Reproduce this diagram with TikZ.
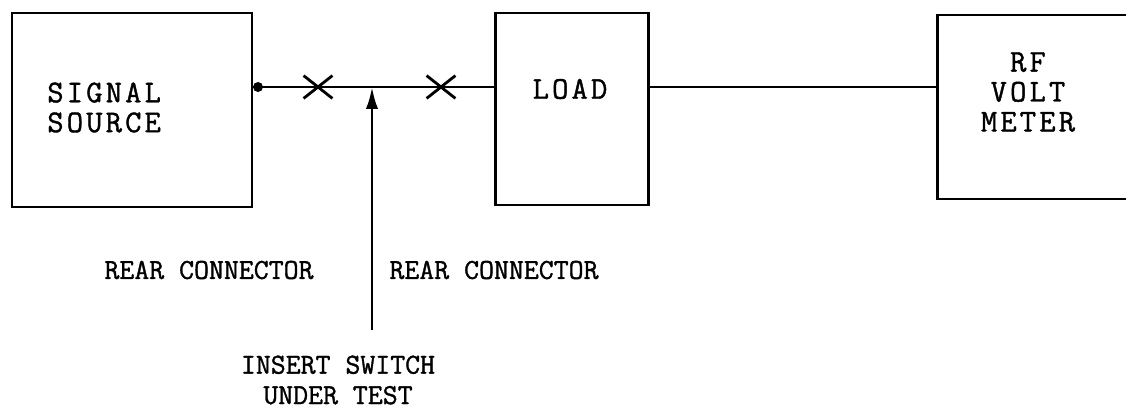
\documentclass[tikz,border=0pt]{standalone}
\usepackage{fontspec}
\usetikzlibrary{positioning, shapes.misc, arrows.meta}
\newfontfamily\spacedmono[LetterSpace=10, FakeBold=1.2]{Latin Modern Mono}
\newfontfamily\notemono[FakeBold=1.2]{Latin Modern Mono}
\tikzset{
	blocknode/.style={
			draw=black,
			line width=1.7pt,
			fill=white,
			inner sep=0pt
		},
	textnode/.style={
			font=\spacedmono\fontsize{18}{17}\selectfont,
			inner sep=0pt
		},
	notenode/.style={
			font=\notemono\fontsize{16.5}{17.3}\selectfont,
			inner sep=0pt
		},
	crossnode/.style={
			cross out,
			draw=black,
			line width=1.6pt,
			minimum width=5.2mm,
			minimum height=4mm,
			inner sep=0pt
		},
	dotnode/.style={
			circle,
			fill=black,
			minimum size=2mm,
			inner sep=0pt
		},
	wire/.style={
			line width=1.6pt
		}
}
\begin{document}
\begin{tikzpicture}[x=0.2mm, y=-0.2mm]
	\useasboundingbox (0,0) rectangle (1126,409);
	\node[blocknode, minimum width=48mm, minimum height=38.8mm] (source) at (132,110) {};
	\node[blocknode, minimum width=30.6mm, minimum height=38.4mm] (load) at (571.5,109) {};
	\node[blocknode, minimum width=40.6mm, minimum height=36.8mm] (meter) at (1038.5,107) {};

	\node[textnode, anchor=west, align=left] (sourcetext) at (47,107.5) {SIGNAL\\SOURCE};
	\node[textnode] (loadtext) at (570,89) {LOAD};
	\node[textnode, align=center] (metertext) at (1028,92) {RF\\VOLT\\METER};

	\coordinate (jn) at (372,87);
	\coordinate (feed) at (372,330);
	\draw[wire] (source.east |- jn) -- (load.west |- jn);
	\draw[wire] (load.east |- jn) -- (meter.west |- jn);
	\node[dotnode] (plug) at (258,87) {};
	\node[crossnode] (xa) at (318,87) {};
	\node[crossnode] (xb) at (441,87) {};
	\draw[wire, -{Latex[length=12.5pt, width=7pt]}] (feed) -- (jn);

	\node[notenode] (rearleft) at (209,270) {REAR CONNECTOR};
	\node[notenode] (rearright) at (494,270) {REAR CONNECTOR};
	\node[notenode, align=center] (switchnote) at (338,380) {INSERT SWITCH\\UNDER TEST};
\end{tikzpicture}
\end{document}
